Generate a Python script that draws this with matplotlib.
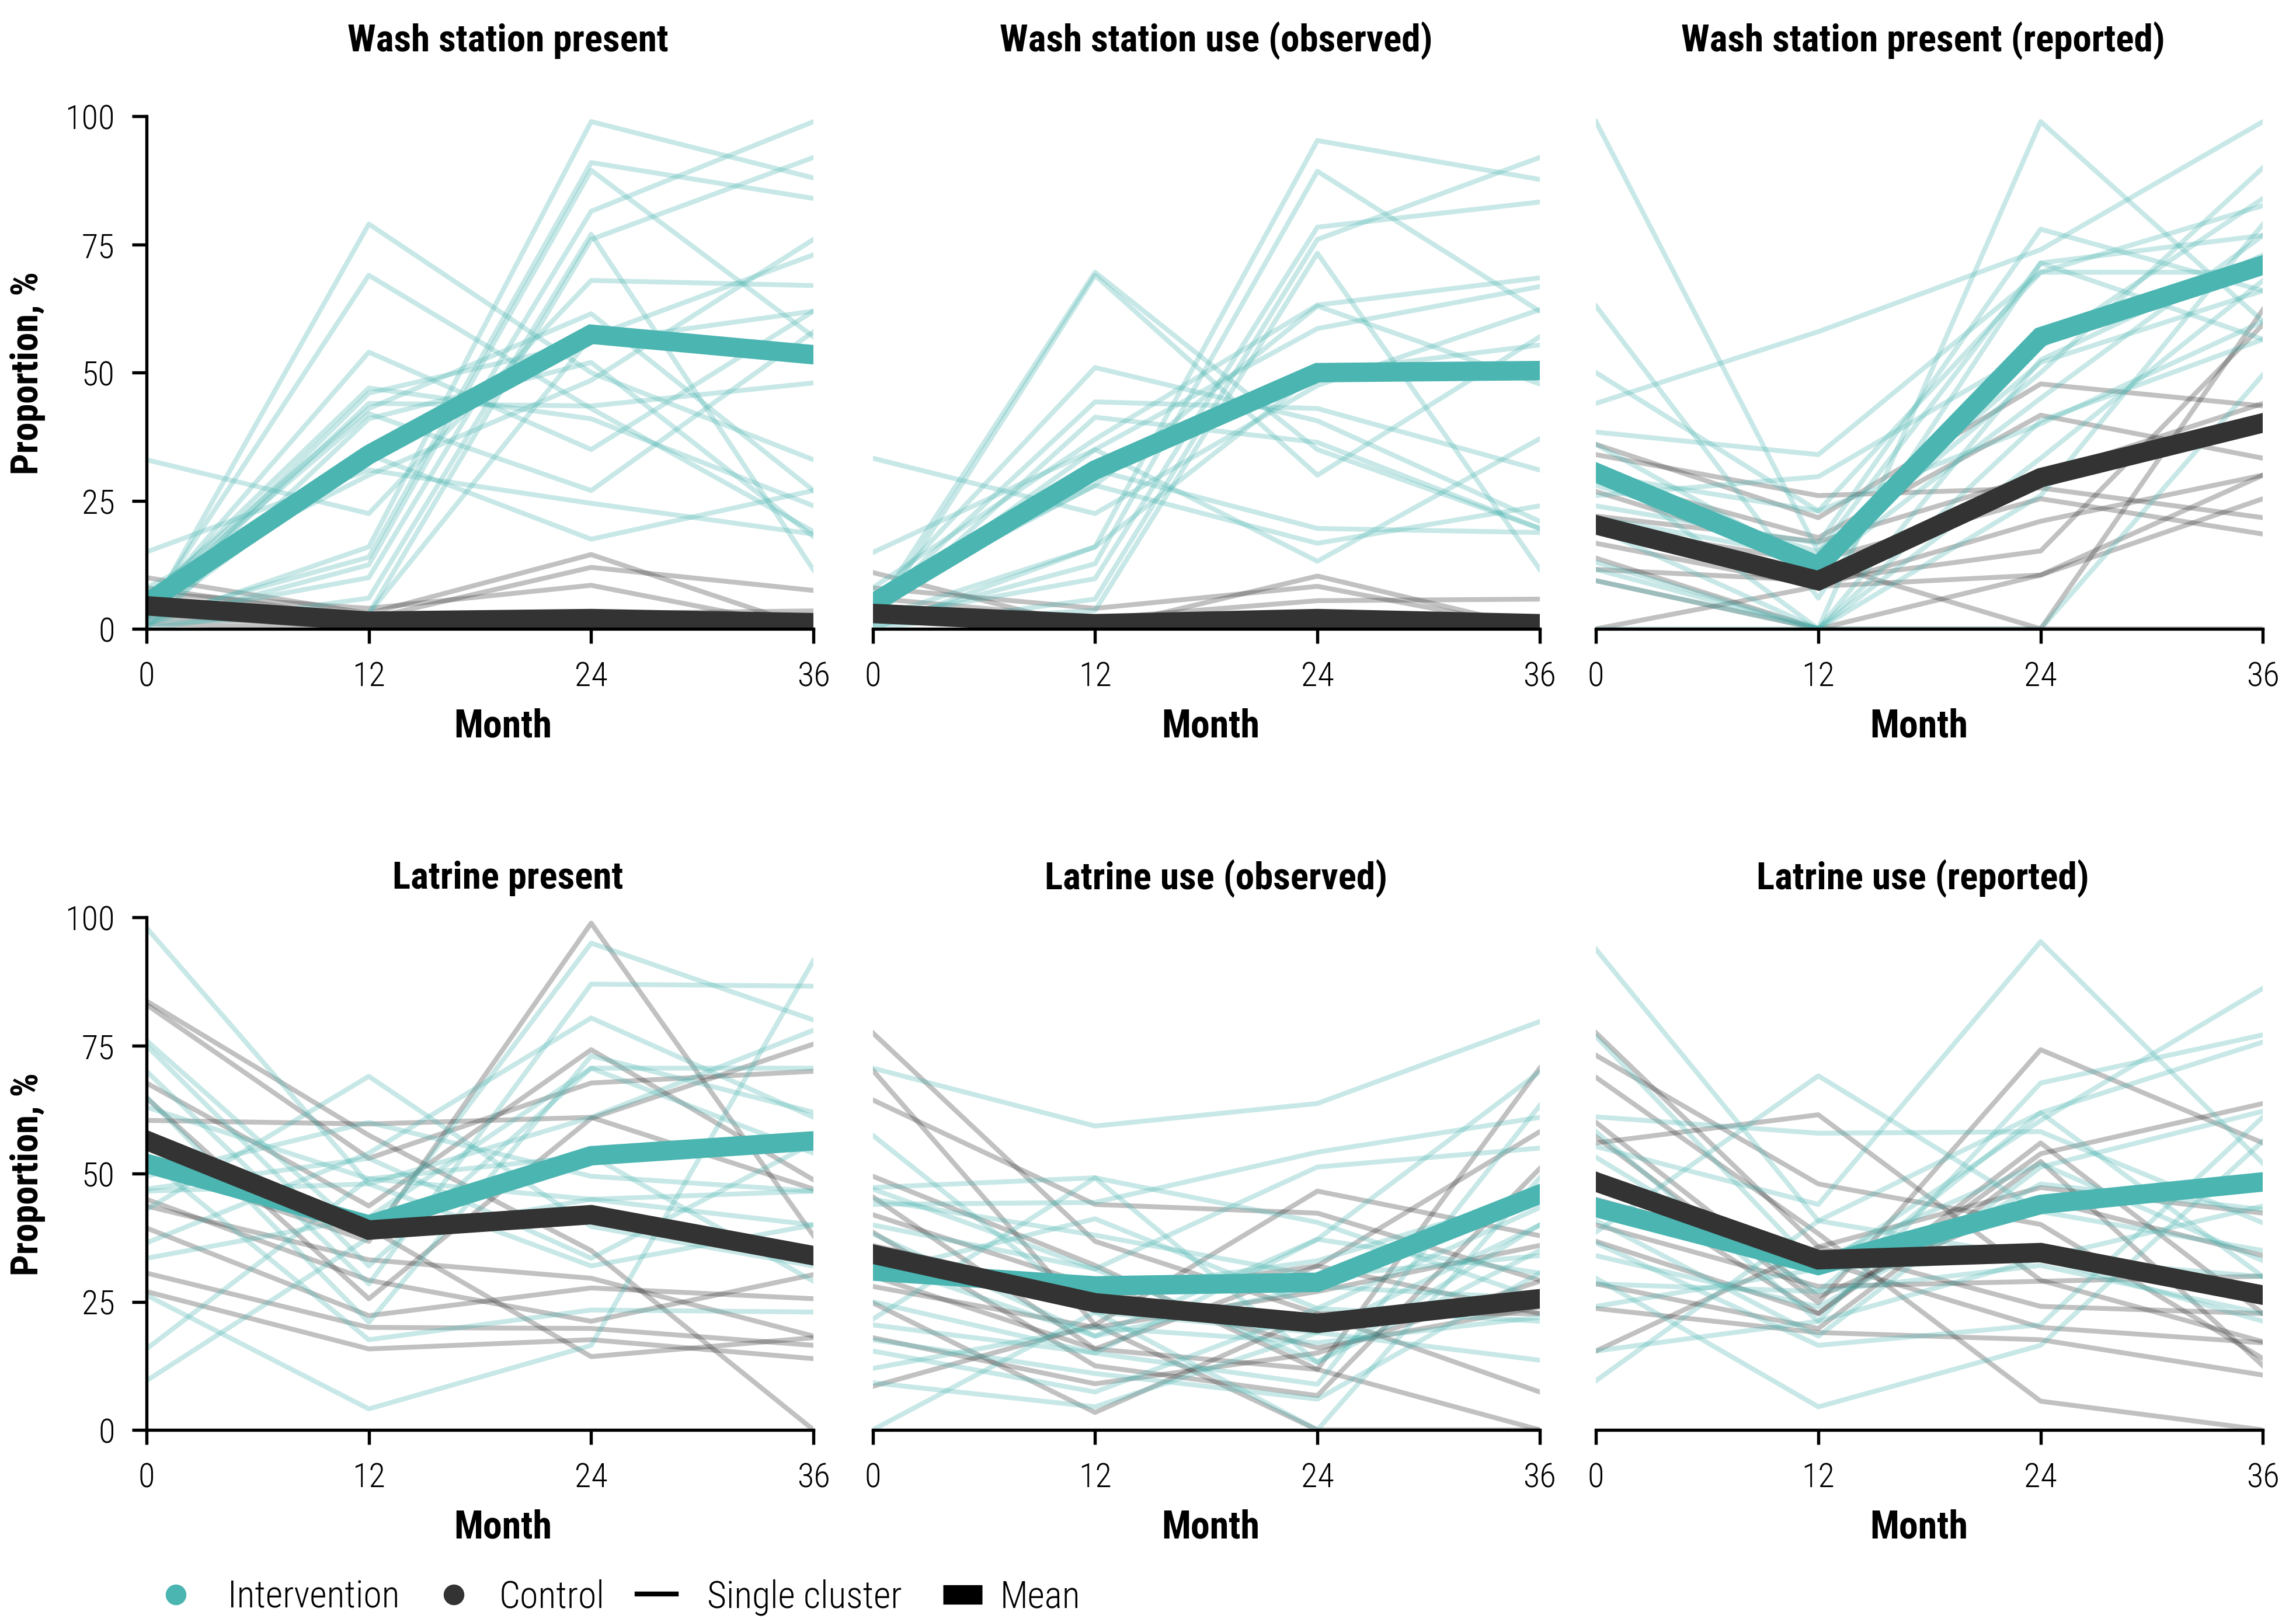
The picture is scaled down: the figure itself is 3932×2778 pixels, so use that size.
import matplotlib
matplotlib.use("Agg")
import matplotlib.pyplot as plt
from matplotlib.lines import Line2D

plt.rcParams["font.family"] = ["Roboto Condensed", "Liberation Sans Narrow", "Roboto", "DejaVu Sans"]

TEAL = "#4BB5B1"
DARK = "#333333"

months = [0, 12, 24, 36]
titles = [
    "Wash station present", "Wash station use (observed)", "Wash station present (reported)",
    "Latrine present", "Latrine use (observed)", "Latrine use (reported)",
]

# ---- Wash station present ----
wsp_int = [
    [2, 79, 50, 33], [3, 69, 43, 19], [4, 54, 35, 62], [5, 47, 41, 24], [3, 44, 43.5, 48],
    [6, 43, 61.5, 27], [0, 41, 52, 18], [33, 22.5, 68, 67], [15, 31, 24.5, 18.5], [1, 16, 99, 88],
    [2, 14, 91, 84], [1, 12.5, 89.5, 57], [2, 10, 81.5, 99], [0, 6, 77, 11.5], [1, 3, 76, 92],
    [4, 3, 57, 73], [8, 30, 48.5, 76], [2, 34, 17.5, 27], [3, 46, 56, 62], [5, 42, 27, 58],
]
wsp_ctl = [
    [10, 3, 14.5, 0], [8, 2, 12, 7.5], [7, 4, 8.5, 0], [6, 1, 3, 3.5], [5, 0, 2, 1],
    [4, 2, 0, 0], [3, 0, 0, 0], [2, 1, 1, 0], [3, 3, 0, 1], [1, 0, 0, 0],
]
wsp_int_mean = [5, 34, 57.5, 53.5]
wsp_ctl_mean = [4.5, 1.5, 2, 1.2]

# ---- Wash station use (observed) ----
wsu_int = [
    [3, 69.6, 35, 19.6], [1, 69, 30, 57], [5, 51, 40.6, 21], [4, 44.3, 43, 31], [2, 41.3, 36.4, 19.6],
    [8, 37, 63.2, 68.5], [14.9, 35, 58.6, 66.8], [33.3, 22.5, 47.5, 62.3], [6, 28, 16.7, 24],
    [0, 16, 95.3, 87.7], [1, 12.7, 89.3, 62], [2, 9.8, 78.4, 83.3], [0, 5.8, 76, 92],
    [1, 3.6, 73.3, 11.6], [3, 31, 19.6, 18.8], [4, 35, 13.2, 37.1], [2, 16, 50, 55.4], [5, 28, 63, 47.8],
]
wsu_ctl = [
    [11, 0, 10.3, 0], [8, 4, 8.3, 0], [6, 2, 5.5, 5.8], [4, 1, 0, 0], [3, 0, 0, 0], [2, 0, 1, 0],
]
wsu_int_mean = [5, 31, 50, 50.4]
wsu_ctl_mean = [3, 1, 2, 1]

# ---- Wash station present (reported) ----
wsr_int = [
    [99, 15, 52, 66], [63, 6, 71.4, 76.8], [50, 23, 40, 60], [44, 58, 74, 99], [38.4, 34, 69.6, 82.6],
    [32, 0, 99, 60], [26, 29.7, 55, 84], [24, 16.7, 78, 66], [21.7, 13.8, 50, 90], [19.6, 0, 52.5, 73],
    [13, 0, 33.3, 68], [11.6, 0, 26, 79], [9.4, 0, 40.6, 56.5], [0, 0, 0, 49.6], [30, 23, 69.6, 69.6],
    [28, 15, 71.4, 56.5], [36, 12, 45, 76.8],
]
wsr_ctl = [
    [36, 21.7, 47.8, 43.5], [34, 26, 27.5, 21.7], [29.7, 17.8, 41.7, 33.3], [26.8, 13.4, 25.4, 18.5],
    [16.7, 8.3, 21, 30], [13.8, 0, 0, 62.3], [11.6, 9.4, 15.2, 59.4], [9.4, 0, 10.5, 25.4],
    [0, 8.3, 10.5, 30], [20, 13, 0, 0], [22, 17, 30, 44],
]
wsr_int_mean = [30.5, 12.3, 57, 71]
wsr_ctl_mean = [20.3, 9.4, 29.5, 40.2]

# ---- Latrine present ----
lp_int = [
    [98, 48, 32, 40], [76, 37.5, 95, 80], [75, 32, 70.6, 54], [70, 28.5, 87, 86.6], [65, 21, 73, 62],
    [63, 49, 45, 40], [49.5, 60, 49.5, 46.6], [46.6, 48, 61, 78], [43, 69, 39.7, 32], [36.5, 54, 80.4, 61],
    [33.5, 41.5, 70.6, 70.6], [26.3, 4.1, 16.5, 91.6], [15.8, 49, 53.5, 29], [9.6, 37.5, 45, 46.6],
    [53, 17.6, 23.4, 23], [47, 53, 33.5, 56],
]
lp_ctl = [
    [83.7, 57.5, 35, 0], [83, 53, 67.7, 70], [67.7, 43.7, 74.2, 48.8], [64.8, 25.6, 60.8, 75.3],
    [60.4, 59.7, 61, 47], [51.7, 36.8, 98.9, 37.9], [43.7, 33.2, 29.6, 18.3], [39.4, 22.3, 27.7, 25.6],
    [30.6, 20, 19.8, 16.5], [27, 15.8, 17.6, 13.9], [45, 29.2, 21.2, 30.3], [55, 39.4, 14.3, 18],
]
lp_int_mean = [52, 40, 53.5, 56.4]
lp_ctl_mean = [56.5, 39, 42, 34]

# ---- Latrine use (observed) ----
lo_int = [
    [70.6, 59.3, 63.7, 79.7], [57.5, 23, 19, 40], [47.3, 49.2, 40.5, 25.6], [44, 44.4, 54.2, 61],
    [40, 31.4, 51.3, 55], [38.3, 18.3, 37.2, 69.9], [30.6, 41.2, 23.7, 43.4], [21.6, 49.2, 13.2, 35],
    [20.5, 15, 8.9, 63.3], [17.6, 11, 6, 30.6], [15.4, 7.4, 23.7, 21.2], [9.2, 4.5, 19, 13.6],
    [0, 23, 0, 49.2], [47, 31.4, 13.2, 40], [25, 15, 37.2, 30.6], [33, 18.3, 28, 25.6],
    [35, 27, 33, 46], [12, 20, 17, 22], [45, 38, 30, 34],
]
lo_ctl = [
    [77.5, 36.8, 22.7, 7.4], [70.2, 20.5, 46.6, 37.9], [64.4, 44, 42.3, 29.2], [49.5, 32.1, 11.8, 70.6],
    [45.5, 15.8, 32, 58.2], [38.6, 12.5, 6.7, 51], [24.8, 3.4, 22.7, 22.7], [8.5, 20.5, 0, 0],
    [30, 15.8, 11.8, 0], [42, 28, 16, 24], [28, 20, 27, 36], [36, 26, 32, 22.7], [18, 9, 15, 29],
]
lo_int_mean = [31, 28.1, 28.8, 46]
lo_ctl_mean = [34.3, 24.8, 20.8, 25.6]

# ---- Latrine use (reported) ----
lr_int = [
    [93.8, 40.8, 33.5, 29.9], [76.8, 31.4, 60.4, 86.2], [61.1, 57.9, 58.2, 40.4], [58.2, 21.2, 67.7, 77.1],
    [55.3, 44, 95.3, 52], [53.2, 27, 61.9, 75.7], [40.8, 18.3, 51.3, 62.2], [38.6, 69.1, 42.6, 35],
    [36.5, 16.5, 20.5, 61.1], [29.6, 4.5, 16.5, 56.4], [28.5, 27, 32.1, 22.7], [24.1, 31.4, 33.5, 43.7],
    [15.4, 21.2, 33.5, 21.2], [9.6, 40.8, 61.9, 29.9], [47, 33, 52, 33], [34, 24, 48, 43],
]
lr_ctl = [
    [77.5, 35.7, 24.1, 22.7], [73.1, 48, 40.1, 13.9], [68.8, 38.3, 5.6, 0], [57.2, 24.8, 74.2, 56],
    [56, 61.5, 29.2, 17.2], [36.8, 22.7, 53.9, 63.7], [28.5, 19.8, 52.4, 12.5], [15.4, 35.7, 47.3, 42.3],
    [23.7, 19, 17.6, 10.7], [50, 22.7, 56, 22.7], [40, 28, 29, 30], [60, 26, 45, 34], [45, 33, 20, 17],
]
lr_int_mean = [43.4, 32.1, 44, 48.4]
lr_ctl_mean = [48.4, 33.2, 34.6, 26.3]

panels = [
    (wsp_int, wsp_ctl, wsp_int_mean, wsp_ctl_mean),
    (wsu_int, wsu_ctl, wsu_int_mean, wsu_ctl_mean),
    (wsr_int, wsr_ctl, wsr_int_mean, wsr_ctl_mean),
    (lp_int, lp_ctl, lp_int_mean, lp_ctl_mean),
    (lo_int, lo_ctl, lo_int_mean, lo_ctl_mean),
    (lr_int, lr_ctl, lr_int_mean, lr_ctl_mean),
]

fig = plt.figure(figsize=(13.107, 9.263), dpi=300)

lefts = [0.0638, 0.3801, 0.6951]
bottoms = [0.6121, 0.1184]
title_pads = [27, 12]
title_x = [0.5417, 0.515, 0.490]
label_x = [0.534, 0.507, 0.484]
w, h = 0.2905, 0.3158

for i, (ints, ctls, imean, cmean) in enumerate(panels):
    r, c = divmod(i, 3)
    ax = fig.add_axes([lefts[c], bottoms[r], w, h])
    for vals in ctls:
        ax.plot(months, vals, color=DARK, alpha=0.3, lw=2.0)
    for vals in ints:
        ax.plot(months, vals, color=TEAL, alpha=0.3, lw=2.0)
    ax.plot(months, imean, color=TEAL, lw=8, solid_joinstyle="miter")
    ax.plot(months, cmean, color=DARK, lw=8, solid_joinstyle="miter")

    ax.set_xlim(0, 36)
    ax.set_ylim(0, 100)
    ax.set_xticks(months)
    ax.set_yticks([0, 25, 50, 75, 100])
    ax.spines["top"].set_visible(False)
    ax.spines["right"].set_visible(False)
    ax.spines["bottom"].set_linewidth(1.3)
    ax.spines["left"].set_linewidth(1.3)
    ax.tick_params(direction="out", length=6, width=1.3, labelsize=14, pad=7)
    for lab in ax.get_xticklabels() + ax.get_yticklabels():
        lab.set_fontweight("light")
    if c == 0:
        ax.set_ylabel("Proportion, %", fontsize=15.5, fontweight="bold", labelpad=8)
    else:
        ax.spines["left"].set_visible(False)
        ax.tick_params(axis="y", left=False, labelleft=False)
    ax.set_xlabel("Month", fontsize=15.8, fontweight="bold", labelpad=6, x=label_x[c])
    ax.set_title(titles[i], fontsize=15.6, fontweight="bold", pad=title_pads[r], x=title_x[c])

# legend: one entry per call so each sits where it does in the original
legend_items = [
    (Line2D([], [], marker="o", ls="none", color=TEAL, markersize=7.5), "Intervention", 0.0679, 0.87),
    (Line2D([], [], marker="o", ls="none", color=DARK, markersize=7.5), "Control", 0.1891, 0.69),
    (Line2D([], [], color="black", lw=2.0), "Single cluster", 0.2774, 0.83),
    (Line2D([], [], color="black", lw=8, solid_capstyle="butt"), "Mean", 0.4107, 0.47),
]
for handle, label, x0, pad in legend_items:
    fig.legend([handle], [label], loc="center left", bbox_to_anchor=(x0, 0.0155), frameon=False,
               prop={"size": 15.3, "weight": "light"}, handlelength=1.06, handletextpad=pad,
               borderpad=0, borderaxespad=0)

fig.savefig("out.png", dpi=300)
